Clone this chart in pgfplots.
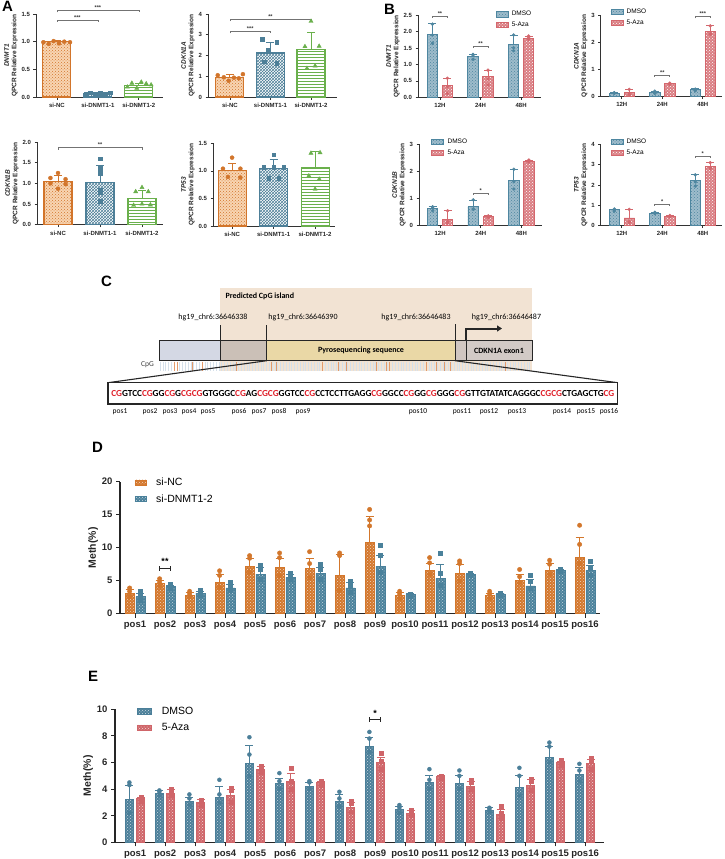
\documentclass[border=0pt]{standalone}
\usepackage{fontspec}
\setmainfont{Liberation Sans}
\newfontfamily\calfont{Carlito}
\usepackage{graphicx}
\usepackage{pgfplots}
\usepackage{pgfplotstable}
\pgfplotsset{compat=1.18}
\usetikzlibrary{patterns,arrows.meta,calc}

\definecolor{aor}{HTML}{D2752B}
\definecolor{aorf}{HTML}{F8D5B3}
\definecolor{abl}{HTML}{4D7F98}
\definecolor{agr}{HTML}{6AB04C}
\definecolor{bbl}{HTML}{4E86A0}
\definecolor{brd}{HTML}{D4676D}
\definecolor{dor}{HTML}{D3772C}
\definecolor{dbl}{HTML}{4A819B}
\definecolor{ebl}{HTML}{4B7F99}
\definecolor{erd}{HTML}{CF6569}
\definecolor{island}{HTML}{F2E3D3}
\definecolor{seg1}{HTML}{D4D8E4}
\definecolor{seg2}{HTML}{CBC0B7}
\definecolor{pyro}{HTML}{EAD8A6}
\definecolor{seg4}{HTML}{D0C6C1}
\definecolor{exon}{HTML}{D2CAC6}
\definecolor{cgred}{HTML}{E0202A}
\definecolor{cpgbl}{HTML}{D5E0EA}
\definecolor{cpgor}{HTML}{E39A6A}

\pgfplotsset{
  gp/.style={
    scale only axis, anchor=south west,
    axis lines=left, axis line style={-, line width=0.8pt, black!80},
    tick align=outside, major tick length=2.5pt,
    tick style={line width=0.7pt, black!80},
    clip=false, ymin=0, ylabel shift=-3pt,
    /pgf/number format/assume math mode=true,
    tick label style={font=\bfseries\fontsize{6}{7}\selectfont, text=black!85},
    ylabel style={font=\bfseries\fontsize{6.5}{7.5}\selectfont, align=center, text=black!85},
    xtick={0,1,2},
  },
  dec1/.style={yticklabel style={/pgf/number format/.cd, fixed, fixed zerofill, precision=1}},
  dec0/.style={yticklabel style={/pgf/number format/.cd, fixed, precision=0}},
  bar/.style={ybar, bar shift=0pt, bar width=#1},
  eb/.style={forget plot, draw=none, mark=none,
    /pgfplots/error bars/y dir=plus, /pgfplots/error bars/y explicit,
    /pgfplots/error bars/error bar style={draw=#1, line width=0.9pt},
    /pgfplots/error bars/error mark options={draw=#1, line width=0.9pt, mark size=4pt, rotate=90}},
  dots/.style={forget plot, only marks, mark=*, mark size=2pt, color=#1, mark options={fill=#1, draw=#1}},
  barleg/.style={legend image code/.code={\draw[##1,/tikz/.cd,line width=0.6pt] (0pt,-2.6pt) rectangle (#1,2.6pt);}},
  ncbar/.style={draw=aor, line width=1.1pt, fill=aorf, postaction={pattern=crosshatch dots, pattern color=aor}},
  kabar/.style={draw=abl, line width=1.1pt, fill=white, postaction={pattern=crosshatch, pattern color=abl}},
  kbbar/.style={draw=agr, line width=1.1pt, fill=white, postaction={pattern=horizontal lines, pattern color=agr}},
  bdm/.style={draw=bbl, line width=0.9pt, fill=bbl!55, postaction={pattern=crosshatch dots, pattern color=bbl}},
  baz/.style={draw=brd, line width=0.9pt, fill=brd!85, postaction={pattern=crosshatch dots, pattern color=white}},
  dnc/.style={draw=dor, line width=0.8pt, fill=dor, postaction={pattern=crosshatch dots, pattern color=white!70!dor}},
  dkd/.style={draw=dbl, line width=0.8pt, fill=dbl, postaction={pattern=crosshatch dots, pattern color=white!70!dbl}},
  edm/.style={draw=ebl, line width=0.8pt, fill=ebl, postaction={pattern=crosshatch dots, pattern color=white!70!ebl}},
  eaz/.style={draw=erd, line width=0.8pt, fill=erd, postaction={pattern=crosshatch dots, pattern color=white!75!erd}},
}

% significance bracket with downward caps
\newcommand{\sig}[5][1.8pt]{%
  \draw[black!55, line width=0.6pt] ([yshift=-#1]axis cs:#2,#4) -- (axis cs:#2,#4) -- (axis cs:#3,#4) -- ([yshift=-#1]axis cs:#3,#4);
  \node[font=\bfseries\fontsize{5.5}{6}\selectfont, text=black!80, inner sep=0.6pt, anchor=south] at ($(axis cs:#2,#4)!0.5!(axis cs:#3,#4)$) {#5};}
% bracket |--| for D/E
\newcommand{\sigb}[4]{%
  \draw[black!85, line width=0.8pt] ([yshift=-2.5pt]axis cs:#1,#3) -- ([yshift=2.5pt]axis cs:#1,#3) (axis cs:#1,#3) -- (axis cs:#2,#3) ([yshift=-2.5pt]axis cs:#2,#3) -- ([yshift=2.5pt]axis cs:#2,#3);
  \node[font=\bfseries\fontsize{9}{9}\selectfont, anchor=south, inner sep=0.5pt, yshift=2.5pt] at ($(axis cs:#1,#3)!0.5!(axis cs:#2,#3)$) {#4};}
% one series: bars, error bars, three dots
\newcommand{\series}[6]{%
  \addplot[#3] table[x expr=\thisrow{g}#2, y=#6]{#1};
  \addplot[eb=#4] table[x expr=\thisrow{g}#2, y=#6, y error=#6e]{#1};
  \addplot[dots=#4, #5] table[x expr=\thisrow{g}#2, y=#6a]{#1};
  \addplot[dots=#4, #5] table[x expr=\thisrow{g}#2, y=#6b]{#1};
  \addplot[dots=#4, #5] table[x expr=\thisrow{g}#2, y=#6c]{#1};
}
\newcommand\cg{\textcolor{cgred}{CG}}

% ---------------- data ----------------
\pgfplotstableread{
g  d    de   da   db   dc   a    ae   aa   ab   ac
0  1.92 0.33 2.23 1.65 1.90 0.35 0.23 0.58 0.33 0.12
1  1.25 0.05 1.31 1.29 1.16 0.63 0.20 0.83 0.56 0.38
2  1.62 0.28 1.90 1.51 1.42 1.80 0.05 1.87 1.83 1.77
}\tBa
\pgfplotstableread{
g  d    de   da   db   dc   a    ae   aa   ab   ac
0  0.13 0.03 0.15 0.12 0.13 0.15 0.12 0.27 0.10 0.07
1  0.15 0.05 0.20 0.13 0.12 0.47 0.03 0.50 0.47 0.45
2  0.25 0.04 0.28 0.23 0.22 2.40 0.20 2.60 2.32 2.28
}\tBb
\pgfplotstableread{
g  d    de   da   db   dc   a    ae   aa   ab   ac
0  0.65 0.05 0.70 0.55 0.68 0.22 0.33 0.55 0.15 0.10
1  0.70 0.23 0.95 0.62 0.60 0.33 0.03 0.36 0.33 0.30
2  1.68 0.40 2.08 1.35 1.62 2.38 0.04 2.42 2.37 2.35
}\tBc
\pgfplotstableread{
g  d    de   da   db   dc   a    ae   aa   ab   ac
0  0.80 0.02 0.82 0.78 0.72 0.38 0.44 0.80 0.20 0.15
1  0.62 0.04 0.66 0.60 0.60 0.47 0.03 0.50 0.47 0.44
2  2.20 0.30 2.50 1.95 2.15 2.92 0.18 3.10 2.85 2.80
}\tBd
\pgfplotstableread{
g  n    ne   na   nb   nc   k    ke   ka   kb   kc
1  3.1  0.5  3.9  3.4  2.6  2.6  0.5  3.4  2.8  2.0
2  4.6  0.4  5.3  4.8  4.2  4.1  0.2  4.4  4.2  3.9
3  2.8  0.4  3.4  3.0  2.6  3.1  0.3  3.6  3.3  2.8
4  4.7  1.2  6.5  5.8  4.0  3.9  0.6  4.8  4.2  3.5
5  7.2  1.1  8.8  8.4  6.3  6.0  1.0  7.4  6.8  5.2
6  7.0  1.4  9.2  8.5  5.8  5.5  0.5  6.1  5.8  5.2
7  6.8  1.5  9.4  7.6  5.5  6.1  0.9  7.5  6.7  5.2
8  5.8  3.2  9.2  8.8  3.5  3.9  0.8  5.0  4.3  3.3
9  10.8 4.0  15.8 14.2 13.3 7.2  1.6  10.4 8.8  6.3
10 2.7  0.5  3.4  3.0  2.3  2.9  0.1  3.0  2.9  2.7
11 6.6  1.0  8.5  7.7  6.0  5.35 2.05 9.2  6.2  4.3
12 6.1  1.3  8.0  7.6  5.0  6.0  0.1  6.1  6.0  5.9
13 2.7  0.4  3.4  3.0  2.3  3.0  0.1  3.1  3.0  2.8
14 5.1  0.8  6.7  5.6  4.7  4.2  1.0  5.8  5.0  3.8
15 6.5  1.1  8.1  7.5  6.0  6.6  0.1  6.8  6.6  6.4
16 8.5  3.0  13.4 10.5 7.6  6.6  0.7  8.0  7.0  5.9
}\tD
\pgfplotstableread{
g  d    de   da   db   dc   a    ae   aa   ab   ac
1  3.2  1.1  4.5  4.3  2.2  3.3  0.1  3.4  3.3  3.1
2  3.7  0.2  3.9  3.8  3.5  3.7  0.3  4.0  3.8  3.5
3  3.1  0.3  3.6  3.3  2.8  3.0  0.2  3.2  3.1  2.8
4  3.4  0.8  4.7  3.6  3.0  3.5  0.5  4.1  3.9  3.0
5  5.95 1.35 7.9  6.6  5.0  5.5  0.2  5.7  5.5  5.3
6  4.4  0.4  5.2  4.6  4.0  4.6  0.6  5.6  4.6  4.0
7  4.2  0.3  4.6  4.5  4.0  4.5  0.1  4.6  4.5  4.3
8  3.1  0.5  3.8  3.3  2.7  2.6  0.4  3.1  2.9  2.3
9  7.2  0.7  8.3  7.8  6.8  6.0  0.4  6.7  6.1  5.5
10 2.5  0.2  2.8  2.6  2.2  2.2  0.2  2.4  2.3  2.0
11 4.5  0.5  5.5  4.7  4.0  4.95 0.05 5.0  4.95 4.8
12 4.4  0.6  5.4  5.0  4.0  4.2  0.4  4.7  4.5  4.0
13 2.4  0.2  2.6  2.5  2.3  2.1  0.4  2.7  2.2  1.8
14 4.1  0.9  5.6  5.0  3.5  4.3  0.4  4.75 4.6  3.9
15 6.4  0.8  7.5  7.2  6.0  6.0  0.1  6.2  6.0  5.8
16 5.1  0.5  5.9  5.4  4.6  5.9  0.3  6.3  6.1  5.5
}\tE

\begin{document}
\begin{tikzpicture}
\useasboundingbox (0,0) rectangle (724pt,-859pt);
\fill[white] (0,0) rectangle (724pt,-859pt);

% panel letters
\begin{scope}[every node/.style={font=\bfseries\fontsize{15}{15}\selectfont, anchor=north west, inner sep=0pt}]
\node at (2pt,-1pt) {A};
\node at (384pt,-4pt) {B};
\node at (101pt,-276pt) {C};
\node at (92pt,-442pt) {D};
\node at (88pt,-671pt) {E};
\end{scope}

% ================= Panel A =================
\begin{axis}[gp, dec1, at={(36pt,-97pt)}, width=127pt, height=83pt, xmin=-0.51, xmax=2.59, ymax=1.5,
  ytick={0,0.5,1,1.5}, xticklabels={si-NC,si-DNMT1-1,si-DNMT1-2},
  ylabel={\textit{DNMT1}\\QPCR Relative Expression}]
\addplot[bar=28pt, ncbar] coordinates {(0,1.00)};
\addplot[bar=28pt, kabar] coordinates {(1,0.07)};
\addplot[bar=28pt, kbbar] coordinates {(2,0.20)};
\addplot[eb=aor] coordinates {(0,1.00) +- (0,0.02)};
\addplot[eb=abl] coordinates {(1,0.07) +- (0,0.02)};
\addplot[eb=agr] coordinates {(2,0.20) +- (0,0.05)};
\addplot[dots=aor] coordinates {(-0.33,0.99) (-0.2,0.96) (-0.08,1.01) (0.05,0.97) (0.18,1.00) (0.32,0.99)};
\addplot[dots=abl, mark=square*, mark size=1.8pt] coordinates {(0.7,0.06) (0.82,0.08) (0.94,0.05) (1.06,0.07) (1.18,0.06) (1.3,0.08)};
\addplot[dots=agr, mark=triangle*, mark size=2.4pt] coordinates {(1.72,0.18) (1.83,0.25) (1.95,0.16) (2.06,0.27) (2.18,0.24) (2.3,0.22)};
\sig{0}{1}{1.39}{***}
\sig{0}{2}{1.56}{***}
\end{axis}

\begin{axis}[gp, dec0, at={(208pt,-97pt)}, width=129pt, height=83pt, xmin=-0.54, xmax=2.64, ymax=4,
  ytick={0,1,2,3,4}, xticklabels={si-NC,si-DNMT1-1,si-DNMT1-2},
  ylabel={\textit{CDKN1A}\\QPCR Relative Expression}]
\addplot[bar=28pt, ncbar] coordinates {(0,0.95)};
\addplot[bar=28pt, kabar] coordinates {(1,2.12)};
\addplot[bar=28pt, kbbar] coordinates {(2,2.28)};
\addplot[eb=aor] coordinates {(0,0.95) +- (0,0.13)};
\addplot[eb=abl] coordinates {(1,2.12) +- (0,0.53)};
\addplot[eb=agr] coordinates {(2,2.28) +- (0,0.84)};
\addplot[dots=aor] coordinates {(-0.3,1.05) (-0.15,0.95) (-0.03,0.78) (0.1,0.93) (0.22,0.9) (0.32,1.1)};
\addplot[dots=abl, mark=square*, mark size=1.8pt] coordinates {(0.8,2.78) (0.95,2.27) (1.15,2.64) (0.85,1.71) (1.15,1.63)};
\addplot[dots=agr, mark=triangle*, mark size=2.4pt] coordinates {(2.0,3.65) (1.85,2.43) (2.2,2.45) (1.9,1.38) (2.1,1.5)};
\sig{0}{1}{3.15}{***}
\sig{0}{2}{3.74}{**}
\end{axis}

\begin{axis}[gp, dec1, at={(37pt,-224.7pt)}, width=126pt, height=82.7pt, xmin=-0.5, xmax=2.5, ymax=2,
  ytick={0,0.5,1,1.5,2}, xticklabels={si-NC,si-DNMT1-1,si-DNMT1-2},
  ylabel={\textit{CDKN1B}\\QPCR Relative Expression}]
\addplot[bar=28pt, ncbar] coordinates {(0,1.05)};
\addplot[bar=28pt, kabar] coordinates {(1,1.03)};
\addplot[bar=28pt, kbbar] coordinates {(2,0.63)};
\addplot[eb=aor] coordinates {(0,1.05) +- (0,0.14)};
\addplot[eb=abl] coordinates {(1,1.03) +- (0,0.41)};
\addplot[eb=agr] coordinates {(2,0.63) +- (0,0.20)};
\addplot[dots=aor] coordinates {(0,1.25) (-0.18,1.13) (0.18,1.1) (-0.18,1.0) (0.18,0.98) (0,0.87)};
\addplot[dots=abl, mark=square*, mark size=1.8pt] coordinates {(1,1.6) (1,1.36) (1,1.25) (1,0.83) (1,0.77) (1,0.57)};
\addplot[dots=agr, mark=triangle*, mark size=2.4pt] coordinates {(2,0.9) (1.85,0.8) (2.15,0.8) (1.8,0.47) (2,0.5) (2.2,0.48)};
\sig{0}{2}{1.86}{**}
\end{axis}

\begin{axis}[gp, dec1, at={(213pt,-226pt)}, width=122pt, height=82.7pt, xmin=-0.46, xmax=2.48, ymax=1.5,
  ytick={0,0.5,1,1.5}, xticklabels={si-NC,si-DNMT1-1,si-DNMT1-2},
  ylabel={\textit{TP53}\\QPCR Relative Expression}]
\addplot[bar=28pt, ncbar] coordinates {(0,1.00)};
\addplot[bar=28pt, kabar] coordinates {(1,1.04)};
\addplot[bar=28pt, kbbar] coordinates {(2,1.06)};
\addplot[eb=aor] coordinates {(0,1.00) +- (0,0.14)};
\addplot[eb=abl] coordinates {(1,1.04) +- (0,0.16)};
\addplot[eb=agr] coordinates {(2,1.06) +- (0,0.30)};
\addplot[dots=aor] coordinates {(0,1.24) (-0.22,1.04) (0.2,1.04) (-0.1,0.89) (0.2,0.88)};
\addplot[dots=abl, mark=square*, mark size=1.8pt] coordinates {(1.0,1.29) (0.76,1.07) (1.0,1.07) (1.24,1.07) (0.88,0.87) (1.12,0.87)};
\addplot[dots=agr, mark=triangle*, mark size=2.4pt] coordinates {(1.9,1.32) (2.12,1.33) (1.85,0.91) (2.1,0.85) (2.0,0.67)};
\end{axis}

% ================= Panel B =================
\pgfplotsset{bstyle/.style={gp, xtick={0,1,2}, xticklabels={12H,24H,48H}, barleg=12pt,
  legend cell align=left,
  legend style={anchor=north west, draw=none, fill=none, font=\fontsize{6.5}{7}\selectfont, row sep=0.8pt, column sep=1.5pt, inner sep=0pt}}}

\begin{axis}[bstyle, dec1, at={(418pt,-97.3pt)}, width=123pt, height=82pt, xmin=-0.54, xmax=2.49, ymax=2.5,
  ytick={0,0.5,1,1.5,2,2.5}, ylabel={\textit{DNMT1}\\QPCR Relative Expression},
  legend style={at={(0.63,1.075)}}]
\series{\tBa}{-0.185}{bar=10.5pt, bdm}{bbl}{mark size=1.5pt}{d}
\series{\tBa}{+0.185}{bar=10.5pt, baz}{brd}{mark size=1.5pt}{a}
\legend{DMSO,5-Aza}
\sig{-0.185}{0.185}{2.48}{**}
\sig{0.815}{1.185}{1.57}{**}
\end{axis}

\begin{axis}[bstyle, dec0, at={(600.7pt,-96.7pt)}, width=121.3pt, height=81.7pt, xmin=-0.52, xmax=2.475, ymax=3,
  ytick={0,1,2,3}, ylabel={\textit{CDKN1A}\\QPCR Relative Expression},
  legend style={at={(0.08,1.10)}}]
\series{\tBb}{-0.185}{bar=10.5pt, bdm}{bbl}{mark size=1.5pt}{d}
\series{\tBb}{+0.185}{bar=10.5pt, baz}{brd}{mark size=1.5pt}{a}
\legend{DMSO,5-Aza}
\sig{0.815}{1.185}{0.80}{**}
\sig{1.815}{2.185}{2.94}{***}
\end{axis}

\begin{axis}[bstyle, dec0, at={(419pt,-225.7pt)}, width=122.7pt, height=81.4pt, xmin=-0.52, xmax=2.5, ymax=3,
  ytick={0,1,2,3}, ylabel={\textit{CDKN1B}\\QPCR Relative Expression},
  legend style={at={(0.1,1.095)}}]
\series{\tBc}{-0.185}{bar=10.5pt, bdm}{bbl}{mark size=1.5pt}{d}
\series{\tBc}{+0.185}{bar=10.5pt, baz}{brd}{mark size=1.5pt}{a}
\legend{DMSO,5-Aza}
\sig{0.815}{1.185}{1.2}{*}
\end{axis}

\begin{axis}[bstyle, dec0, at={(600.7pt,-225.7pt)}, width=121.3pt, height=81.4pt, xmin=-0.52, xmax=2.475, ymax=4,
  ytick={0,1,2,3,4}, ylabel={\textit{TP53}\\QPCR Relative Expression},
  legend style={at={(0.08,1.095)}}]
\series{\tBd}{-0.185}{bar=10.5pt, bdm}{bbl}{mark size=1.5pt}{d}
\series{\tBd}{+0.185}{bar=10.5pt, baz}{brd}{mark size=1.5pt}{a}
\legend{DMSO,5-Aza}
\sig{0.815}{1.185}{1.06}{*}
\sig{1.815}{2.185}{3.43}{*}
\end{axis}

% ================= Panel C =================
\begin{scope}[x=1pt, y=-1pt]
\fill[island] (220,288) rectangle (532,371);
\node[anchor=west, font=\calfont\bfseries\fontsize{8}{9}\selectfont] at (222,296.5) {Predicted CpG island};
\foreach \x in {160,162.8,...,531} \draw[cpgbl, line width=0.35pt] (\x,361.5) -- (\x,371);
\foreach \x in {174,177.3,192.3,202.7,236.7,271.7,276,322.7,338.3,346.7,376,386,389.3,426.7,436.7,444.3,450,505}
  \draw[cpgor, line width=0.6pt] (\x,361.5) -- (\x,371);
\node[font=\calfont\fontsize{7.5}{8}\selectfont, text=black!75] at (147.5,364.5) {CpG};
\fill[seg1] (159,340) rectangle (220,360.7);
\fill[seg2] (220,340) rectangle (266.7,360.7);
\fill[pyro] (266.7,340) rectangle (455,360.7);
\fill[seg4] (455,340) rectangle (466,360.7);
\fill[exon] (466,340) rectangle (532,360.7);
\draw[black!85, line width=1pt] (159,340) rectangle (532,360.7);
\draw[black!85, line width=1pt] (220,325) -- (220,360.7) (266.7,325) -- (266.7,360.7) (455,324) -- (455,360.7) (466,340) -- (466,360.7);
\draw[black!85, line width=2pt, -{Triangle[length=5pt,width=6pt]}] (466,340) -- (466,328.5) -- (502,328.5);
\node[font=\calfont\bfseries\fontsize{8}{9}\selectfont] at (361,350.5) {Pyrosequencing sequence};
\node[font=\calfont\bfseries\fontsize{8}{9}\selectfont] at (499,350.5) {CDKN1A exon1};
\begin{scope}[every node/.style={font=\calfont\fontsize{8}{9}\selectfont}]
\node at (213,317) {hg19\_chr6:36646338};
\node at (303,317) {hg19\_chr6:36646390};
\node at (416,317) {hg19\_chr6:36646483};
\node at (506.5,317) {hg19\_chr6:36646487};
\end{scope}
\draw[black!85, line width=1.1pt] (108,382.7) -- (266.7,360.7) (455,360.7) -- (617.7,382.7);
\draw[black!85, line width=1.1pt, fill=white] (108,382.7) rectangle (617.7,404);
\node[font=\calfont\bfseries\fontsize{9}{10}\selectfont, inner sep=0pt] at (362.85,393.4) {\resizebox{503pt}{!}{\cg GTCC\cg GG\cg G\cg\cg GTGGGC\cg AG\cg\cg GGTCC\cg CCTCCTTGAGG\cg GGCC\cg GG\cg GGG\cg GTTGTATATCAGGGC\cg\cg CTGAGCTG\cg}};
\foreach \x/\n in {120/1,150/2,170/3,189/4,208/5,239/6,259/7,279/8,303/9,418/10,462/11,489/12,517/13,562/14,586/15,609/16}
  \node[font=\calfont\fontsize{7.5}{8}\selectfont] at (\x,412) {pos\n};
\end{scope}

% ================= Panel D =================
\begin{axis}[gp, at={(120pt,-613.7pt)}, width=480pt, height=132pt, xmin=0.5, xmax=16.5, ymax=20,
  axis line style={line width=1.1pt, black!85}, tick style={line width=0.9pt, black!85}, major tick length=4pt,
  ytick={0,5,10,15,20}, xtick={1,...,16},
  xticklabels={pos1,pos2,pos3,pos4,pos5,pos6,pos7,pos8,pos9,pos10,pos11,pos12,pos13,pos14,pos15,pos16},
  tick label style={font=\bfseries\fontsize{9.5}{10}\selectfont},
  ylabel={Meth(\%)}, ylabel style={font=\bfseries\fontsize{10.5}{11}\selectfont},
  barleg=11pt, legend cell align=left,
  legend style={at={(0.03,1.045)}, anchor=north west, draw=none, fill=none, font=\fontsize{10.5}{11}\selectfont, row sep=3.5pt, column sep=8pt, inner sep=0pt}]
\series{\tD}{-0.18}{bar=9pt, dnc}{dor}{mark size=2.2pt}{n}
\series{\tD}{+0.18}{bar=9pt, dkd}{dbl}{mark=square*, mark size=2pt}{k}
\legend{si-NC,si-DNMT1-2}
\sigb{1.82}{2.18}{6.9}{**}
\end{axis}

% ================= Panel E =================
\begin{axis}[gp, at={(115pt,-842.3pt)}, width=488.7pt, height=133pt, xmin=0.33, xmax=16.62, ymax=10,
  axis line style={line width=1.1pt, black!85}, tick style={line width=0.9pt, black!85}, major tick length=4pt,
  ytick={0,2,4,6,8,10}, xtick={1,...,16},
  xticklabels={pos1,pos2,pos3,pos4,pos5,pos6,pos7,pos8,pos9,pos10,pos11,pos12,pos13,pos14,pos15,pos16},
  tick label style={font=\bfseries\fontsize{9.5}{10}\selectfont},
  ylabel={Meth(\%)}, ylabel style={font=\bfseries\fontsize{10.5}{11}\selectfont},
  barleg=14pt, legend cell align=left,
  legend style={at={(0.045,1.035)}, anchor=north west, draw=none, fill=none, font=\fontsize{10.5}{11}\selectfont, row sep=3.5pt, column sep=8pt, inner sep=0pt}]
\series{\tE}{-0.19}{bar=8pt, edm}{ebl}{mark size=2pt}{d}
\series{\tE}{+0.19}{bar=8pt, eaz}{erd}{mark=square*, mark size=1.9pt}{a}
\legend{DMSO,5-Aza}
\sigb{8.81}{9.19}{9.25}{*}
\end{axis}
\end{tikzpicture}
\end{document}
